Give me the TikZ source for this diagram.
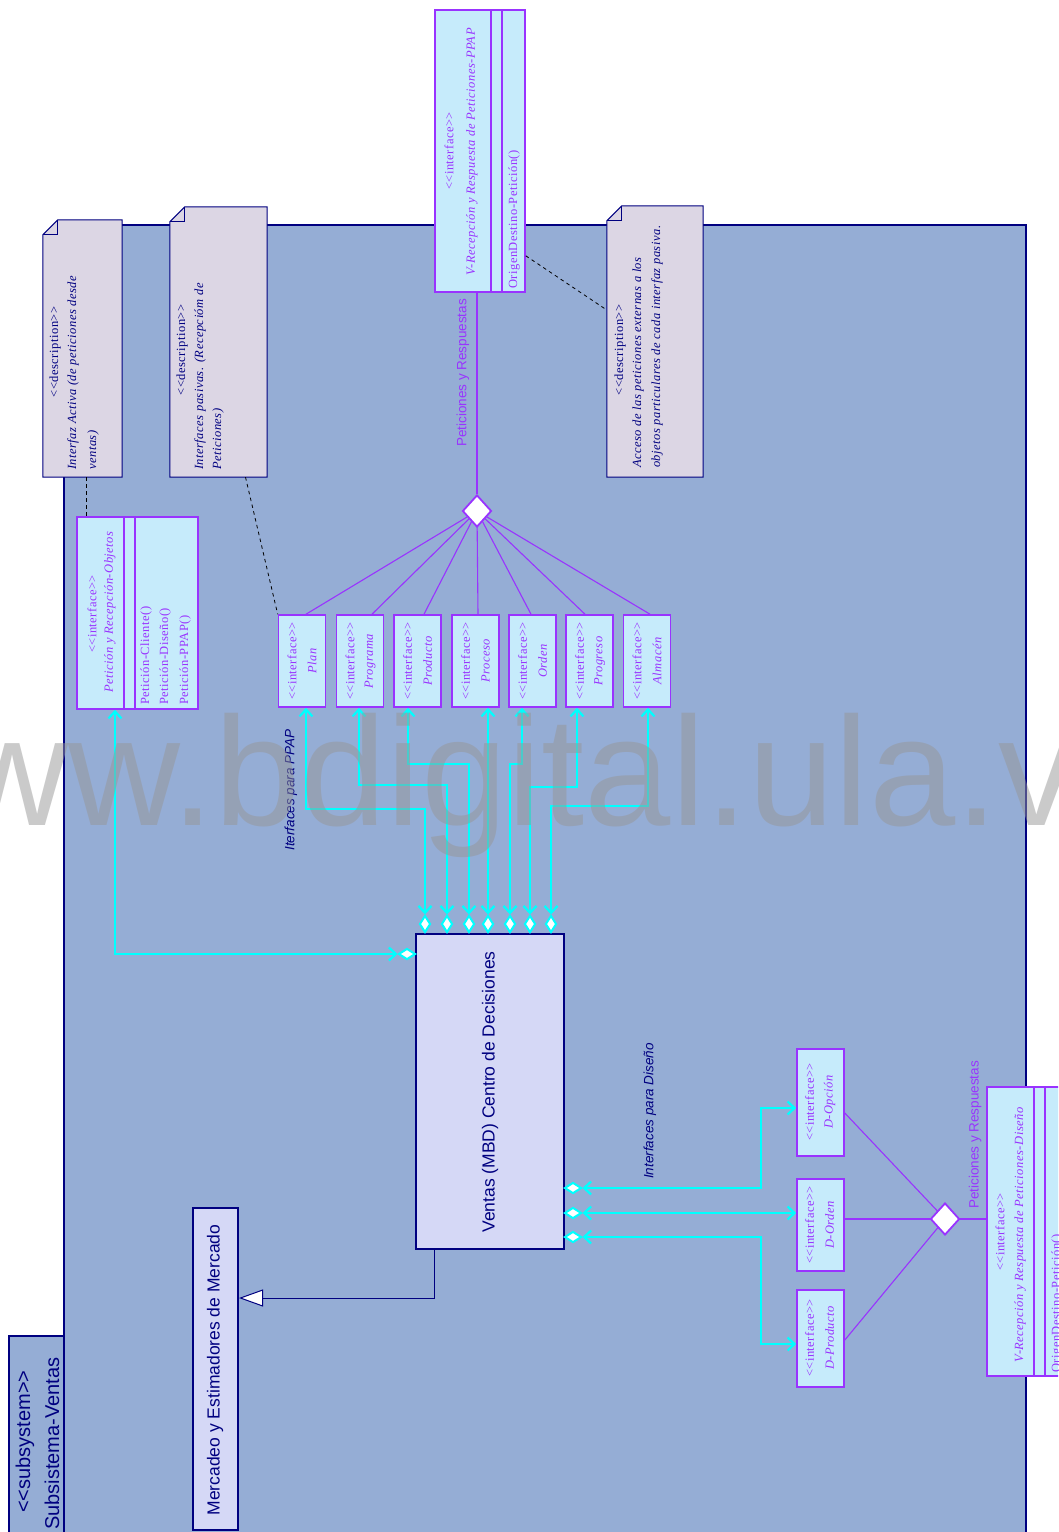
\documentclass[tikz,border=0pt]{standalone}
\usepackage{fontspec}
\setmainfont{Liberation Serif}
\newfontfamily\umlserif[LetterSpace=4,Ligatures=TeXOff]{Liberation Serif}
\newfontfamily\umlsans[Ligatures=TeXOff]{Liberation Sans}
\usetikzlibrary{arrows.meta,shapes.geometric,calc}

\definecolor{subbg}{RGB}{149,173,213}
\definecolor{navy}{RGB}{0,0,128}
\definecolor{ifcyan}{RGB}{198,235,251}
\definecolor{umlpurple}{RGB}{153,51,255}
\definecolor{notefill}{RGB}{220,214,228}
\definecolor{compfill}{RGB}{213,216,246}
\definecolor{linkcyan}{RGB}{0,255,255}
\definecolor{wmgray}{RGB}{150,150,150}

\tikzset{
  frame/.style={rectangle, draw=navy, fill=subbg, line width=2pt, inner sep=0pt},
  ifbox/.style={rectangle, draw=umlpurple, fill=ifcyan, line width=1.6pt, inner sep=0pt},
  ifsep/.style={draw=umlpurple, line width=1.6pt},
  compbox/.style={rectangle, draw=navy, fill=compfill, line width=2pt, inner sep=0pt},
  notearea/.style={rectangle, inner sep=0pt},
  notedraw/.style={draw=navy, fill=notefill, line width=1pt, line join=miter},
  notefoldline/.style={draw=navy, line width=0.8pt},
  uplabel/.style={rotate=90, inner sep=0pt},
  iftxt/.style={uplabel, text=umlpurple, font=\umlserif\fontsize{12.5}{14}\selectfont},
  ifname/.style={uplabel, text=umlpurple, font=\umlserif\itshape\fontsize{12.5}{14}\selectfont},
  notetxt/.style={uplabel, text=navy, font=\umlserif\fontsize{12.5}{14}\selectfont},
  notebody/.style={uplabel, text=navy, font=\umlserif\itshape\fontsize{12.5}{14}\selectfont, anchor=west},
  bigname/.style={uplabel, text=navy, font=\umlsans\fontsize{17.5}{19}\selectfont},
  sysname/.style={uplabel, text=navy, font=\umlsans\fontsize{20}{22}\selectfont},
  flowlabel/.style={uplabel, text=umlpurple, font=\umlsans\fontsize{13.5}{15}\selectfont},
  grouplabel/.style={uplabel, text=navy, font=\umlsans\itshape\fontsize{13.5}{15}\selectfont},
  junction/.style={diamond, draw=umlpurple, fill=white, line width=1.8pt, minimum width=29pt, minimum height=32pt, inner sep=0pt},
  assoc/.style={draw=umlpurple, line width=1.1pt},
  portv/.style={diamond, draw=linkcyan, fill=white, line width=2pt, minimum width=11pt, minimum height=17pt, inner sep=0pt},
  porth/.style={diamond, draw=linkcyan, fill=white, line width=2pt, minimum width=17pt, minimum height=11pt, inner sep=0pt},
  link/.style={draw=linkcyan, line width=2.2pt, arrows={Straight Barb[length=7pt,width=13pt]-Straight Barb[length=7pt,width=13pt]}},
  gen/.style={draw=navy, line width=1pt, -{Triangle[length=24pt,width=17pt,fill=white]}},
  notelink/.style={draw=black, line width=0.8pt, dash pattern=on 3.5pt off 3.5pt},
  watermark/.style={inner sep=0pt, text=wmgray, opacity=0.5, font=\umlsans\fontsize{155}{155}\selectfont}
}

\newcommand\umlnote[1]{%
  \draw[notedraw] ($(#1.north west)+(15,0)$) -- (#1.north east) -- (#1.south east)
    -- (#1.south west) -- ($(#1.north west)+(0,15)$) -- cycle;
  \draw[notefoldline] ($(#1.north west)+(15,0)$) -- ($(#1.north west)+(15,15)$)
    -- ($(#1.north west)+(0,15)$);
}

\begin{document}
\begin{tikzpicture}[x=1pt,y=-1pt]
\useasboundingbox (0,0) rectangle (1058,1532);
\fill[white] (0,0) rectangle (1058,1532);
\clip (0,0) rectangle (1058,1532);

% subsystem frame with its name tab
\node[frame, anchor=north west, minimum width=962pt, minimum height=1340pt] (sys) at (63,224) {};
\node[frame, anchor=north west, minimum width=55pt, minimum height=230pt] (tab) at (8,1335) {};
\node[sysname, anchor=west] (tabst) at (25,1513) {<<subsystem>>};
\node[sysname, anchor=west] (tabnm) at (52,1530) {Subsistema-Ventas};

% description notes
\node[notearea, minimum width=79pt, minimum height=257pt] (n1) at (82.5,348.5) {};
\node[notearea, minimum width=97pt, minimum height=270pt] (n2) at (218.5,342) {};
\node[notearea, minimum width=96pt, minimum height=271pt] (n3) at (655,341.5) {};
\umlnote{n1}
\umlnote{n2}
\umlnote{n3}
\node[notetxt] (n1st) at (55,352) {<<description>>};
\node[notebody] (n1a) at (73,470) {Interfaz Activa (de peticiones desde};
\node[notebody] (n1b) at (93,470) {ventas)};
\node[notetxt] (n2st) at (182,350) {<<description>>};
\node[notebody] (n2a) at (200,470) {Interfaces pasivas. (Recepcióm de};
\node[notebody] (n2b) at (218,470) {Peticiones)};
\node[notetxt] (n3st) at (620,350) {<<description>>};
\node[notebody] (n3a) at (638,468) {Acceso de las peticiones externas a los};
\node[notebody] (n3b) at (657,468) {objetos particulares de cada interfaz pasiva.};

% requests / responses interface for PPAP
\node[ifbox, minimum width=90pt, minimum height=282pt] (vp) at (480,151) {};
\draw[ifsep] ([xshift=11pt]vp.north) -- ([xshift=11pt]vp.south);
\draw[ifsep] ([xshift=22pt]vp.north) -- ([xshift=22pt]vp.south);
\node[iftxt] (vpst) at (449,151) {<<interface>>};
\node[ifname] (vpnm) at (472,152) {V-Recepción y Respuesta de Peticiones-PPAP};
\node[iftxt, anchor=west] (vpop) at (514,289) {OrigenDestino-Petición()};

% active interface
\node[ifbox, minimum width=121pt, minimum height=192pt] (pet) at (137.5,613) {};
\draw[ifsep] ([xshift=-13.5pt]pet.north) -- ([xshift=-13.5pt]pet.south);
\draw[ifsep] ([xshift=-2.5pt]pet.north) -- ([xshift=-2.5pt]pet.south);
\node[iftxt] (petst) at (92,614) {<<interface>>};
\node[ifname] (petnm) at (110,612) {Petición y Recepción-Objetos};
\node[iftxt, anchor=west] (petm1) at (146,705) {Petición-Cliente()};
\node[iftxt, anchor=west] (petm2) at (165,705) {Petición-Diseño()};
\node[iftxt, anchor=west] (petm3) at (185,705) {Petición-PPAP()};

% passive interfaces
\foreach \nm/\cx/\lbl in {plan/302/Plan,prg/360/Programa,prd/417.5/Producto,prc/475.5/Proceso,ord/532.5/Orden,pgr/589.5/Progreso,alm/647/Almacén} {
  \node[ifbox, minimum width=47pt, minimum height=92pt] (\nm) at (\cx,661) {};
  \node[iftxt] (\nm-st) at ({\cx-10},661) {<<interface>>};
  \node[ifname] (\nm-nm) at ({\cx+10},661) {\lbl};
}

% fan-out of the PPAP requests
\coordinate (Tc) at (477,511);
\foreach \nm/\dx in {plan/4,prg/12,prd/6.5,prc/2.5,ord/-1.5,pgr/-4.5,alm/3}
  \draw[assoc] (Tc) -- ([xshift=\dx pt]\nm.north);
\node[junction] (T) at (Tc) {};
\draw[assoc] (T.north) -- (T.north |- vp.south);
\node[flowlabel] (tlbl) at (463,373) {Peticiones y Respuestas};

% decision centre and market block
\node[compbox, minimum width=148pt, minimum height=315pt] (ventas) at (490,1091.5) {};
\node[bigname] (ventasnm) at (490,1092) {Ventas (MBD) Centro de Decisiones};
\node[compbox, minimum width=45pt, minimum height=322pt] (merc) at (215.5,1369) {};
\node[bigname] (mercnm) at (215,1370) {Mercadeo y Estimadores de Mercado};
\draw[gen] ([xshift=-56pt]ventas.south) |- ([yshift=71pt]merc.east);

% ports on the decision centre
\foreach \nm/\px in {d1/425,d2/447,d3/469,d4/488,d5/510,d6/530,d7/551}
  \node[portv] (\nm) at (\px,924) {};
\node[porth] (d0) at (407,954) {};
\node[porth] (e1) at (573,1188) {};
\node[porth] (e2) at (573,1213) {};
\node[porth] (e3) at (573,1237) {};

% PPAP links
\draw[link] ([xshift=4pt]plan.south) -- ++(0,101) -| (d1.north);
\draw[link] ([xshift=-1pt]prg.south) -- ++(0,77) -| (d2.north);
\draw[link] ([xshift=-9.5pt]prd.south) -- ++(0,56) -| (d3.north);
\draw[link] ([xshift=12.5pt]prc.south) -- (d4.north);
\draw[link] ([xshift=-10.5pt]ord.south) -- ++(0,56) -| (d5.north);
\draw[link] ([xshift=-12.5pt]pgr.south) -- ++(0,79) -| (d6.north);
\draw[link] ([xshift=1pt]alm.south) -- ++(0,98) -| (d7.north);
\draw[link] ([xshift=-22.5pt]pet.south) |- (d0.west);
\node[grouplabel] (ppaplbl) at (291,790) {Iterfaces para PPAP};

% design interfaces
\node[ifbox, minimum width=47pt, minimum height=107pt] (dop) at (820.5,1102.5) {};
\node[iftxt] (dopst) at (809.5,1102) {<<interface>>};
\node[ifname] (dopnm) at (829.5,1102) {D-Opción};
\node[ifbox, minimum width=47pt, minimum height=92pt] (dord) at (820.5,1225) {};
\node[iftxt] (dordst) at (809.5,1225) {<<interface>>};
\node[ifname] (dordnm) at (829.5,1225) {D-Orden};
\node[ifbox, minimum width=47pt, minimum height=97pt] (dprod) at (820.5,1338.5) {};
\node[iftxt] (dprodst) at (809.5,1338) {<<interface>>};
\node[ifname] (dprodnm) at (829.5,1338) {D-Producto};

\draw[link] (e1.east) -| ([xshift=-35pt,yshift=-5.5pt]dop.west) -- ([yshift=-5.5pt]dop.west);
\draw[link] (e2.east) -- (e2.east -| dord.west);
\draw[link] (e3.east) -| ([xshift=-35pt,yshift=-5.5pt]dprod.west) -- ([yshift=-5.5pt]dprod.west);
\node[grouplabel] (dislbl) at (650,1111) {Interfaces para Diseño};

% requests / responses interface for design
\node[ifbox, minimum width=100pt, minimum height=289pt] (vd) at (1037,1231.5) {};
\draw[ifsep] ([xshift=-3pt]vd.north) -- ([xshift=-3pt]vd.south);
\draw[ifsep] ([xshift=8pt]vd.north) -- ([xshift=8pt]vd.south);
\node[iftxt] (vdst) at (1000,1232) {<<interface>>};
\node[ifname] (vdnm) at (1020,1235) {V-Recepción y Respuesta de Peticiones-Diseño};
\node[iftxt, anchor=west] (vdop) at (1057,1373) {OrigenDestino-Petición()};

\coordinate (Rc) at (945,1219);
\draw[assoc] (Rc) -- ([yshift=-10.5pt]dop.east);
\draw[assoc] (Rc) -- (Rc -| dord.east);
\draw[assoc] (Rc) -- ([yshift=-1.5pt]dprod.east);
\draw[assoc] (Rc) -- (Rc -| vd.west);
\node[junction] (R) at (Rc) {};
\node[flowlabel] (rlbl) at (975,1135) {Peticiones y Respuestas};

% dashed note anchors
\draw[notelink] ([xshift=3.5pt]n1.south) -- ([xshift=3.5pt]n1.south |- pet.north);
\draw[notelink] ([xshift=27pt]n2.south) -- (plan.north west);
\draw[notelink] ([yshift=37pt]vp.south east) -- ([yshift=31.5pt]n3.west);

% repository watermark
\node[watermark, anchor=base west] (wm) at (-156,825) {www.bdigital.ula.ve};
\end{tikzpicture}
\end{document}
